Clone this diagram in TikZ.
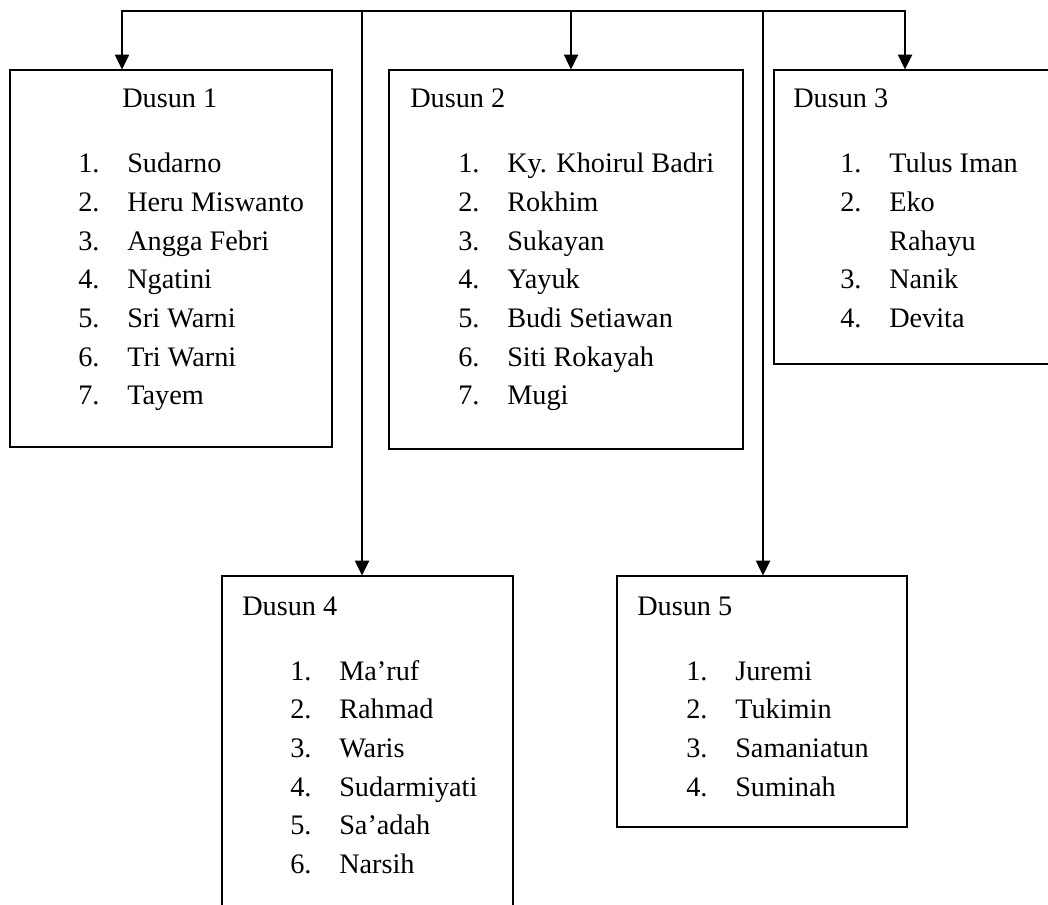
\documentclass[tikz,border=0pt]{standalone}
\usepackage{fontspec}
\setmainfont{Liberation Serif}
\usetikzlibrary{arrows.meta,fit,positioning}

\tikzset{
  dusun/.style={draw, line width=0.9pt, inner sep=0pt},
  judul/.style={anchor=base west, inner sep=0pt},
  daftar/.style={anchor=base west, inner sep=0pt},
  cabang/.style={line width=1.4pt},
  >={Triangle[length=11pt,width=10.5pt]},
}
\newenvironment{nama}{\begin{tabular}[t]{@{}p{36.75pt}@{}l@{}}}{\end{tabular}}

\begin{document}
\begin{tikzpicture}[x=0.75pt, y=-0.75pt, font=\fontsize{21.2}{29}\selectfont]
\useasboundingbox (0,0) rectangle (1048,905);
% kotak
\node[dusun, fit={(10,70) (332,447)}](D1){};
\node[dusun, fit={(389,70) (743,449)}](D2){};
\node[dusun, fit={(774,70) (1060,364)}](D3){};
\node[dusun, fit={(222,576) (513,920)}](D4){};
\node[dusun, fit={(617,576) (907,827)}](D5){};
%
\node[judul](J1)at(122,108){Dusun 1};
\node[judul](J2)at(410,108){Dusun 2};
\node[judul](J3)at(793,108){Dusun 3};
\node[judul](J4)at(242,615){Dusun 4};
\node[judul](J5)at(637,615){Dusun 5};
%
\node[daftar](L1)at(78,173){\begin{nama}
1.&Sudarno\\ 2.&Heru Miswanto\\ 3.&Angga Febri\\ 4.&Ngatini\\
5.&Sri Warni\\ 6.&Tri Warni\\ 7.&Tayem
\end{nama}};
\node[daftar](L2)at(458,173){\begin{nama}
1.&Ky. Khoirul Badri\\ 2.&Rokhim\\ 3.&Sukayan\\ 4.&Yayuk\\
5.&Budi Setiawan\\ 6.&Siti Rokayah\\ 7.&Mugi
\end{nama}};
\node[daftar](L3)at(840,173){\begin{nama}
1.&Tulus Iman\\ 2.&Eko\\ &Rahayu\\ 3.&Nanik\\ 4.&Devita
\end{nama}};
\node[daftar](L4)at(290,680){\begin{nama}
1.&Ma’ruf\\ 2.&Rahmad\\ 3.&Waris\\ 4.&Sudarmiyati\\
5.&Sa’adah\\ 6.&Narsih
\end{nama}};
\node[daftar](L5)at(686,680){\begin{nama}
1.&Juremi\\ 2.&Tukimin\\ 3.&Samaniatun\\ 4.&Suminah
\end{nama}};
% garis cabang
\coordinate (C1) at (122,11);
\coordinate (C4) at (362,11);
\coordinate (C2) at (571,11);
\coordinate (C5) at (763,11);
\coordinate (C3) at (905,11);
\draw[cabang, <->](C3 |- D3.north)--(C3)--(C1)--(C1 |- D1.north);
\draw[cabang, ->](C2)--(C2 |- D2.north);
\draw[cabang, ->](C4)--(C4 |- D4.north);
\draw[cabang, ->](C5)--(C5 |- D5.north);
\end{tikzpicture}
\end{document}
